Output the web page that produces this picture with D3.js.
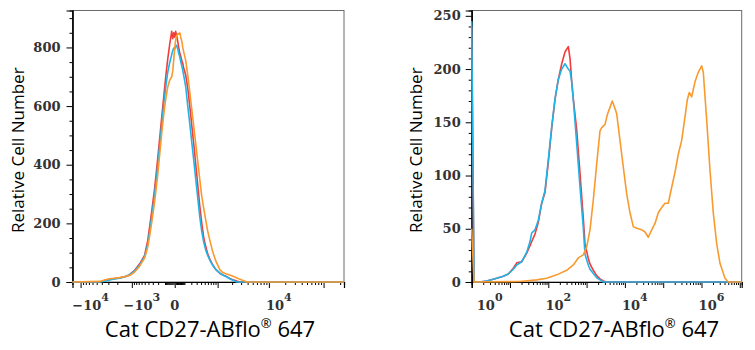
<!DOCTYPE html>
<html><head><meta charset="utf-8">
<script src="https://cdn.jsdelivr.net/npm/d3@7"></script>
<style>body{margin:0;background:#fff}svg{display:block}</style>
</head><body><svg id="c" width="755" height="350"></svg>
<script>
// ---------- Left panel (biexponential axis) ----------
const leftX = [-14100, -4410, -3540, -2840, -2260, -1800, -1420, -1115, -867, -665, -502,
  -419, -369, -324, -262, -207, -175, -145, -117, -91, -68,
  -47, -27, -17, -8, 0, 8, 17, 27, 36, 47,
  57, 68, 80, 91, 117, 145, 175, 207, 243, 282,
  324, 369, 419, 473, 532, 596, 665, 781, 912, 1115,
  1290, 1490, 1797, 2064, 2477, 2836, 3388, 3870, 235000];
const leftRed = [0, 0,5,9,12,14,18,25,40,62,92, 140,190,240,320,420,490,560,630,700,760,
  810,855,830,850,835,855,840,820,800,780, 770,755,745,730,705,660,600,535,470,400,
  330,260,200,150,120,95,78,58,42,30, 24,20,12,8,3,0,0,0, 0];
const leftCyan = [0, 0,3,7,10,13,17,24,38,58,88, 128,172,222,300,395,465,535,605,665,715,
  748,775,790,798,795,803,807,795,780,768, 752,738,722,705,665,600,540,478,415,350,
  285,222,172,135,108,90,75,56,43,30, 24,19,11,6,0,0,0,0, 0];
const leftOrange = [0, 2,7,11,13,15,18,22,34,54,82, 118,158,202,275,365,435,505,570,625,665,
  688,700,720,760,800,825,840,847,845,850, 835,822,800,785,755,705,648,590,530,470,
  410,350,292,250,210,172,143,102,72,42, 32,28,24,20,14,9,4,0, 0];
const leftXDomain = [-14100, 235000];
const leftYMax = 926;
const leftYTicks = [0, 200, 400, 600, 800];
const leftXLabels = [{v:-1e4, base:"\u221210", sup:"4"}, {v:-1e3, base:"\u221210", sup:"3"},
  {v:0, base:"0", sup:""}, {v:1e4, base:"10", sup:"4"}];
const leftXMajor = [-1e4, -1e3, 0, 1e3, 1e4, 1e5];

// ---------- Right panel (log axis) ----------
const rightX = [1, 1.15, 1.65, 2.46, 4.06, 6.68, 9.03, 12.2, 15, 20.2,
  27.3, 33.3, 36.9, 45, 54.8, 67.3, 82, 100, 123, 150,
  182, 224, 273, 333, 369, 408, 450, 552, 673, 820,
  908, 1107, 1227, 1496, 1836, 2239, 2729, 3340, 11220000];
const rightRed = [240,0,0,1,3,5.5,7.5,13,18,19, 27,34,38,45,56,74,84,112,145,172,
  190,205,216,221,210,189,172,143,102,60, 36,22,17,11,6,3,1,0,0];
const rightCyan = [245,0,0,1,3,5.5,7.5,12,16,19, 28,38,46,49,58,74,86,115,146,172,
  190,200,205,200,198,188,171,130,89,51, 26,16,12,8,4,2,0,0,0];
const rightOrangeX = [1, 1.15, 18.2, 49.8, 90.8, 166, 302, 450, 607, 820,
  1006, 1227, 1496, 1836, 2239, 2479, 3022, 3470, 4083, 4690,
  5521, 6109, 7447, 9081, 11140, 13590, 16570, 20330, 27480, 33500,
  40830, 50100, 61090, 74470, 91400, 111400, 135900, 166700, 203200, 247700,
  304000, 370700, 425600, 479800, 554600, 676100, 824200, 1012000, 1114000, 1367000,
  1667000, 2032000, 2494000, 3041000, 4109000, 5012000, 11220000];
const rightOrange = [50,0,0.5,2,3.5,6.7,11,16,22.6,25.5, 33,49,77,111,142,145,148,157,164,170,
  163,158,133,108,83,65,52,50.5,49,47, 42,49,55,65,70,74,74,89,103,120,
  133,155,171,178,174,188,197,203,197,152, 105,65,36,17.5,3.5,0,0];
const rightXDomain = [1, Math.pow(10, 7.05)];
const rightYMax = 255;
const rightYTicks = [0, 50, 100, 150, 200, 250];
const rightXLabels = [{v:1, base:"10", sup:"0"}, {v:1e2, base:"10", sup:"2"},
  {v:1e4, base:"10", sup:"4"}, {v:1e6, base:"10", sup:"6"}];

const seriesColors = {red:"#f23b3b", cyan:"#1fb3e8", orange:"#f99a2f"};
const yTitle = "Relative Cell Number";
const xTitle = "Cat CD27-ABflo";
const xTitleTail = " 647";

const svg = d3.select("#c");
const tickFont = "'DejaVu Serif', serif";
const titleFont = "'Open Sans', 'Noto Sans', sans-serif";

function panel(opt) {
  const {x, y, left, right, top, bottom} = opt;
  const g = svg.append("g");
  // frame
  g.append("rect").attr("x", left).attr("y", top).attr("width", right-left).attr("height", bottom-top)
    .attr("fill","none").attr("stroke","#6a6a6a").attr("stroke-width",1);
  const clipId = "clip"+opt.id;
  svg.append("clipPath").attr("id", clipId).append("rect")
    .attr("x", left-1.5).attr("y", top).attr("width", right-left+2.5).attr("height", bottom-top+1.5);
  // y axis
  const yMinor = opt.yMinor.filter(v => !opt.yTicks.includes(v));
  const ya = g.append("g").attr("transform",`translate(${left},0)`)
    .call(d3.axisLeft(y).tickValues(opt.yTicks).tickSize(6).tickPadding(opt.yPad).tickFormat(d3.format("d")));
  g.append("g").attr("transform",`translate(${left},0)`)
    .call(d3.axisLeft(y).tickValues(yMinor).tickSize(3).tickFormat(""));
  // x axis
  g.append("g").attr("transform",`translate(0,${bottom})`)
    .call(d3.axisBottom(x).tickValues(opt.xMajor).tickSize(6).tickFormat(""));
  g.append("g").attr("transform",`translate(0,${bottom})`)
    .call(d3.axisBottom(x).tickValues(opt.xMinor).tickSize(3).tickFormat(""));
  g.selectAll(".domain").attr("stroke","#000").attr("stroke-width",1.2);
  g.selectAll(".tick line").attr("stroke","#000");
  ya.selectAll("text").attr("font-family", tickFont).attr("font-size", 13)
    .attr("fill","#333").attr("font-weight","bold");
  // lines (on top of axes)
  const lg = g.append("g").attr("clip-path", `url(#${clipId})`);
  opt.series.forEach(s => {
    const line = d3.line().x((d,i)=>x(s.xs[i])).y(d=>y(d));
    lg.append("path").datum(s.ys).attr("d", line).attr("fill","none")
      .attr("stroke", s.color).attr("stroke-width",1.6).attr("stroke-linejoin","round");
  });
  // x labels
  opt.xLabels.forEach(L => {
    let cx = x(L.v);
    if (L.sup) cx = Math.max(cx + 10, left + 18);
    const t = g.append("text").attr("x", cx).attr("y", bottom + 28)
      .attr("text-anchor","middle").attr("font-family", tickFont).attr("font-size", 13)
      .attr("font-weight","bold").attr("fill","#333");
    t.append("tspan").text(L.base);
    if (L.sup) t.append("tspan").attr("dy", -9).attr("font-size", 11).text(L.sup);
  });
  // titles
  g.append("text").attr("transform",`translate(${opt.yTitleX},${(top+bottom)/2+4}) rotate(-90)`)
    .attr("text-anchor","middle").attr("font-family", titleFont).attr("font-size", 17)
    .attr("fill","#000").text(yTitle);
  const xt = g.append("text").attr("x", opt.xTitleX).attr("y", 337)
    .attr("text-anchor","middle").attr("font-family", titleFont).attr("font-size", 22).attr("fill","#000");
  xt.append("tspan").text(xTitle);
  xt.append("tspan").attr("font-size", 13).attr("dy", -9).text("\u00AE");
  xt.append("tspan").attr("dy", 9).text(xTitleTail);
}

// left
{
  const left = 72.5, right = 344, top = 10.5, bottom = 282;
  const x = d3.scaleSymlog().constant(200).domain(leftXDomain).range([left, right]);
  const y = d3.scaleLinear().domain([0, leftYMax]).range([bottom, top]);
  const xMinor = [];
  [1,2,3,4,5].forEach(k => { for (let m=1;m<=9;m++){ const v=m*Math.pow(10,k);
    [v,-v].forEach(w => { if (w>=leftXDomain[0] && w<=leftXDomain[1] && !leftXMajor.includes(w)) xMinor.push(w); }); } });
  panel({id:"L", x, y, left, right, top, bottom,
    series:[{xs:leftX, ys:leftRed, color:seriesColors.red},
            {xs:leftX, ys:leftCyan, color:seriesColors.cyan},
            {xs:leftX, ys:leftOrange, color:seriesColors.orange}],
    yTicks:leftYTicks, yMinor:d3.range(0, 901, 50), yPad:6,
    xMajor:leftXMajor, xMinor, xLabels:leftXLabels, yTitleX:24, xTitleX:210});
}
// right
{
  const left = 471.7, right = 741.7, top = 10.5, bottom = 282;
  const x = d3.scaleLog().domain(rightXDomain).range([left, right]);
  const y = d3.scaleLinear().domain([0, rightYMax]).range([bottom, top]);
  const xMajor = d3.range(0, 8).map(k => Math.pow(10, k));
  const xMinor = [];
  d3.range(0, 7).forEach(k => { for (let m=2;m<=9;m++) xMinor.push(m*Math.pow(10,k)); });
  panel({id:"R", x, y, left, right, top, bottom,
    series:[{xs:rightX, ys:rightRed, color:seriesColors.red},
            {xs:rightX, ys:rightCyan, color:seriesColors.cyan},
            {xs:rightOrangeX, ys:rightOrange, color:seriesColors.orange}],
    yTicks:rightYTicks, yMinor:d3.range(0, 251, 10), yPad:5,
    xMajor, xMinor, xLabels:rightXLabels, yTitleX:422, xTitleX:614});
}
</script></body></html>
